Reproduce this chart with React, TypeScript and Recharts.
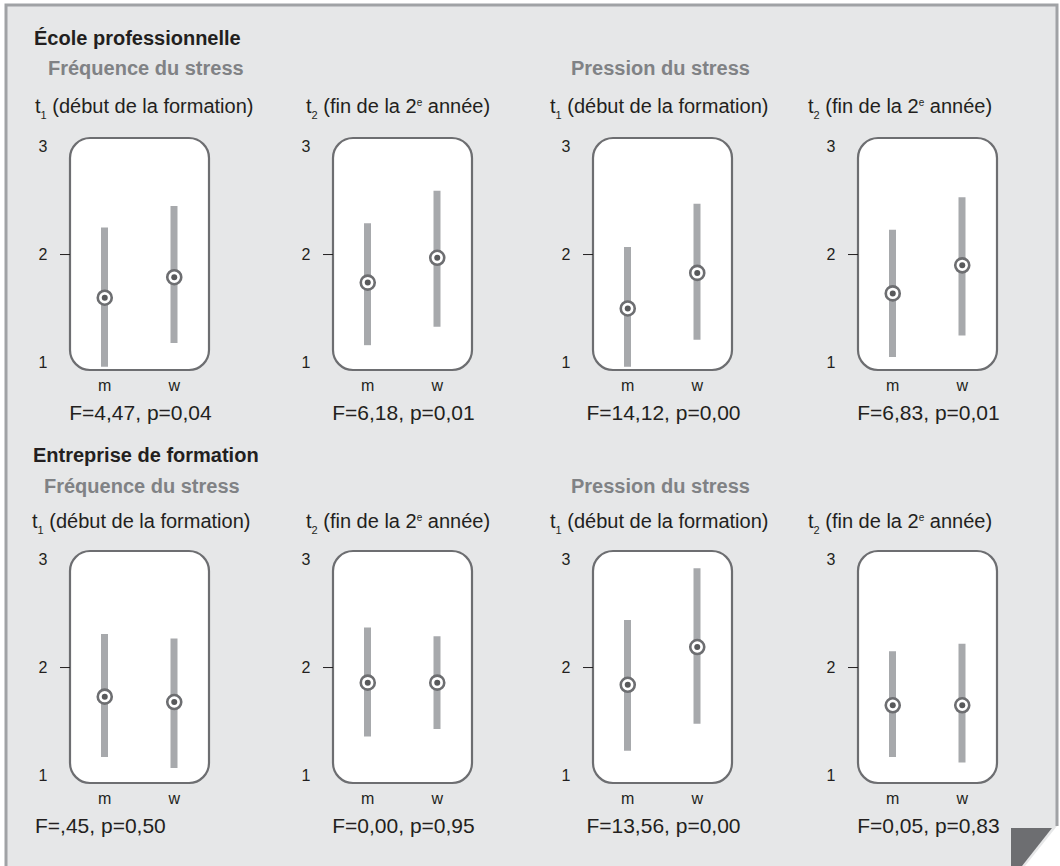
import React from 'react';
import { ComposedChart, Bar, Line, XAxis, YAxis, ReferenceArea, Label } from 'recharts';

// ---------- data ----------
const categories = ['m', 'w'];
const rowTitles = ['École professionnelle', 'Entreprise de formation'];
const groupTitles = ['Fréquence du stress', 'Pression du stress'];
const timeIndex = ['1', '2', '1', '2'];
const timeText = ['(début de la formation)', '(fin de la 2', '(début de la formation)', '(fin de la 2'];
const yTicks = [1, 2, 3];

// panels: row 1 (École professionnelle), row 2 (Entreprise de formation)
const meanM = [1.60, 1.74, 1.50, 1.64, 1.73, 1.86, 1.84, 1.65];
const meanW = [1.79, 1.97, 1.83, 1.90, 1.68, 1.86, 2.19, 1.65];
const lowM = [0.96, 1.16, 0.96, 1.05, 1.17, 1.36, 1.23, 1.17];
const lowW = [1.18, 1.33, 1.21, 1.25, 1.07, 1.43, 1.48, 1.12];
const highM = [2.25, 2.29, 2.07, 2.23, 2.31, 2.37, 2.44, 2.15];
const highW = [2.45, 2.59, 2.47, 2.53, 2.27, 2.29, 2.92, 2.22];
const fStats = [
  'F=4,47, p=0,04', 'F=6,18, p=0,01', 'F=14,12, p=0,00', 'F=6,83, p=0,01',
  'F=,45, p=0,50', 'F=0,00, p=0,95', 'F=13,56, p=0,00', 'F=0,05, p=0,83',
];

// ---------- layout ----------
const FONT = "'Liberation Sans', Arial, sans-serif";
const DARK = '#231f20';
const GREY_TXT = '#808285';
const BAR = '#a7a9ac';
const RING = '#6d6e71';
const BG = '#e6e7e8';

const boxLeft = [60, 323, 583, 848];
const boxTop = [138, 551];
const BOX_W = 159;
const BOX_H = 232;
const YW = 40;
const MT = 10;
const XH = 62;

const Dot = (p: any) => {
  const { cx, cy } = p;
  if (cx == null || cy == null) return null;
  return (
    <g>
      <circle cx={cx} cy={cy} r={7} fill="#fff" stroke={RING} strokeWidth={2.6} />
      <circle cx={cx} cy={cy} r={3} fill="#58595b" />
    </g>
  );
};

const YTick = (p: any) => {
  const { y, payload } = p;
  return (
    <g>
      <text x={YW - 17} y={y} textAnchor="middle" dominantBaseline="central" style={{ fontSize: 16, fontFamily: FONT }} fill={DARK}>
        {payload.value}
      </text>
      {payload.value === 2 ? <line x1={YW} x2={YW + 10} y1={y} y2={y} stroke={DARK} strokeWidth={1} /> : null}
    </g>
  );
};

const XTick = (p: any) => {
  const { x, y, payload } = p;
  return (
    <text x={x} y={y + 15} textAnchor="middle" dominantBaseline="central" style={{ fontSize: 16, fontFamily: FONT }} fill={DARK}>
      {payload.value}
    </text>
  );
};

function Panel({ idx }: { idx: number }) {
  const row = Math.floor(idx / 4);
  const col = idx % 4;
  const data = categories.map((c, i) => ({
    cat: c,
    range: i === 0 ? [lowM[idx], highM[idx]] : [lowW[idx], highW[idx]],
    mean: i === 0 ? meanM[idx] : meanW[idx],
  }));
  const leftAlign = idx === 4;
  return (
    <div style={{ position: 'absolute', left: boxLeft[col] - YW, top: boxTop[row] - MT }}>
      <ComposedChart
        width={YW + BOX_W + 40}
        height={MT + BOX_H + XH}
        data={data}
        margin={{ top: MT, right: 40, left: 0, bottom: 0 }}
      >
        <ReferenceArea
          y1={0.93}
          y2={3.08}
          zIndex={-60}
          ifOverflow="visible"
          shape={(s: any) => (
            <rect x={s.x} y={s.y} width={s.width} height={s.height} rx={20} ry={20} fill="#fff" stroke={RING} strokeWidth={2.2} />
          )}
        />
        <XAxis
          dataKey="cat"
          type="category"
          padding={{ left: 10, right: 10 }}
          axisLine={false}
          tickLine={false}
          tickSize={0}
          tickMargin={0}
          height={XH}
          tick={<XTick />}
          interval={0}
        >
          <Label
            content={(lp: any) => {
              const vb = lp.viewBox || {};
              const cx = leftAlign ? vb.x - 25 : vb.x + vb.width / 2 + 1;
              return (
                <text x={cx} y={vb.y + 42} textAnchor={leftAlign ? 'start' : 'middle'} dominantBaseline="central" style={{ fontSize: 21, fontFamily: FONT }} fill={DARK}>
                  {fStats[idx]}
                </text>
              );
            }}
          />
        </XAxis>
        <YAxis
          type="number"
          domain={[0.93, 3.08]}
          ticks={yTicks}
          width={YW}
          axisLine={false}
          tickLine={false}
          tickSize={0}
          tick={<YTick />}
          allowDataOverflow
        />
        <Bar dataKey="range" barSize={7} fill={BAR} isAnimationActive={false} />
        <Line dataKey="mean" stroke="none" dot={<Dot />} activeDot={false} isAnimationActive={false} />
      </ComposedChart>
    </div>
  );
}

const txt = (extra: React.CSSProperties): React.CSSProperties => ({
  position: 'absolute',
  fontSize: 20,
  lineHeight: '20px',
  whiteSpace: 'nowrap',
  color: DARK,
  ...extra,
});

const rowTitleTop = [28, 445];
const rowTitleLeft = [34, 33];
const groupTop = [58, 476];
const groupLeft = [48, 571];
const timeTop = [96, 511];
const timeLeft = [35, 306, 550, 808];

export default function App() {
  return (
    <div style={{ position: 'absolute', left: 0, top: 0, width: 1060, height: 866, background: '#fff', fontFamily: FONT, overflow: 'hidden' }}>
      <svg width={1060} height={866} style={{ position: 'absolute', left: 0, top: 0 }}>
        <polygon points="6,5 1057,5 1057,826 1025,866 6,866" fill={BG} />
        <polyline points="6,866 6,5 1057,5 1057,826" fill="none" stroke="#a0a2a5" strokeWidth={3} />
        <polygon points="1011,828 1052,828 1022,866 1011,866" fill="#6d6e71" />
      </svg>
      {rowTitles.map((t, r) => (
        <React.Fragment key={t}>
          <div style={txt({ left: rowTitleLeft[r], top: rowTitleTop[r], fontWeight: 'bold' })}>{t}</div>
          {groupTitles.map((g, gi) => (
            <div key={g} style={txt({ left: groupLeft[gi] - (r === 1 && gi === 0 ? 4 : 0), top: groupTop[r], fontWeight: 'bold', color: GREY_TXT })}>{g}</div>
          ))}
          {timeIndex.map((ti, c) => (
            <div key={c} style={txt({ left: timeLeft[c] - (r === 1 && c === 0 ? 3 : 0), top: timeTop[r] })}>
              t<span style={{ fontSize: 11, position: 'relative', top: 6 }}>{ti}</span> {timeText[c]}
              {ti === '2' ? (
                <>
                  <span style={{ fontSize: 10, position: 'relative', top: -7 }}>e</span> année)
                </>
              ) : null}
            </div>
          ))}
        </React.Fragment>
      ))}
      {fStats.map((_, i) => (
        <Panel key={i} idx={i} />
      ))}
    </div>
  );
}
